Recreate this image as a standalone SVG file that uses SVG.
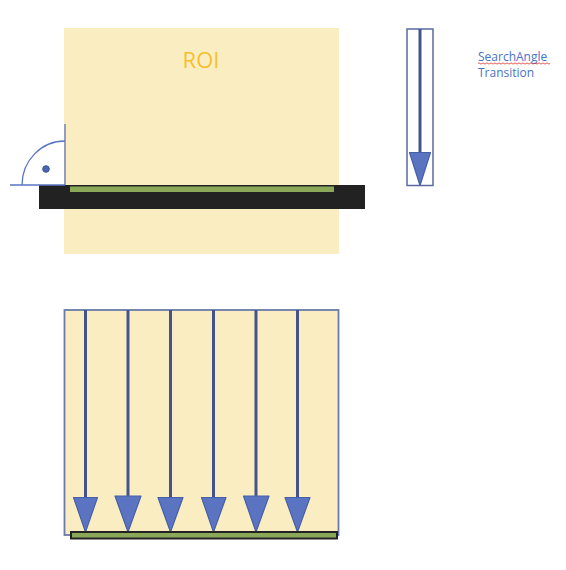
<svg xmlns="http://www.w3.org/2000/svg" width="566" height="570" viewBox="0 0 566 570">
<style>
.roi{fill:#FAEDC1}
.frame{fill:none;stroke:#6A7AAA;stroke-width:1.8}
.shaft{stroke:#43548C;stroke-width:3;fill:none}
.head{fill:#5A74C2;stroke:#4660A8;stroke-width:1.2;stroke-linejoin:round}
.thin{stroke:#5A74C2;stroke-width:1.3;fill:none}
.lbl{font-family:"Open Sans","Liberation Sans",sans-serif;font-size:12px;fill:#4A72C4}
</style>
<rect width="566" height="570" fill="#FFFFFF"/>
<g id="roi-top">
  <rect class="roi" x="64" y="28" width="275" height="226"/>
  <text x="201" y="68" text-anchor="middle" font-family="Open Sans, Liberation Sans, sans-serif" font-size="22" fill="#F2C12E">ROI</text>
</g>
<g id="edge-bar">
  <rect x="39" y="185" width="326" height="24" fill="#222222"/>
  <rect x="70" y="186.5" width="264" height="5.5" fill="#8AA858"/>
</g>
<g id="angle">
  <line class="thin" x1="65" y1="124" x2="65" y2="185"/>
  <line class="thin" x1="10" y1="185" x2="65" y2="185"/>
  <path class="thin" d="M22,185 A43,44 0 0 1 65,141"/>
  <circle cx="46" cy="169" r="3.3" fill="#4A67B4" stroke="#3A5090" stroke-width="1"/>
</g>
<g id="search-legend">
  <rect x="407" y="29" width="26" height="156.5" fill="#FFFFFF" stroke="#5A6A9E" stroke-width="1.5"/>
  <line class="shaft" x1="420" y1="29" x2="420" y2="153"/>
  <polygon class="head" points="409.5,152.5 430.5,152.5 420,185.5"/>
</g>
<g id="legend-text">
  <text class="lbl" x="478" y="61">SearchAngle</text>
  <text class="lbl" x="478" y="77">Transition</text>
  <path d="M478,63.5 q1,-1.2 2,0 t2,0 t2,0 t2,0 t2,0 t2,0 t2,0 t2,0 t2,0 t2,0 t2,0 t2,0 t2,0 t2,0 t2,0 t2,0 t2,0 t2,0 t2,0 t2,0 t2,0 t2,0 t2,0 t2,0 t2,0 t2,0 t2,0 t2,0 t2,0 t2,0 t2,0 t2,0 t2,0 t2,0 t2,0 t2,0" fill="none" stroke="#E03030" stroke-width="0.8"/>
</g>
<g id="roi-bottom">
  <rect class="roi" x="64.5" y="310" width="274" height="225"/>
  <rect class="frame" x="64.5" y="310" width="274" height="225"/>
</g>
<g id="connectors">
  <line class="shaft" x1="85.5" y1="310" x2="85.5" y2="498"/>
  <line class="shaft" x1="128" y1="310" x2="128" y2="496"/>
  <line class="shaft" x1="170.5" y1="310" x2="170.5" y2="498"/>
  <line class="shaft" x1="213.5" y1="310" x2="213.5" y2="498"/>
  <line class="shaft" x1="256" y1="310" x2="256" y2="496"/>
  <line class="shaft" x1="297.5" y1="310" x2="297.5" y2="498"/>
  <polygon class="head" points="73.5,497.5 97.5,497.5 85.5,532"/>
  <polygon class="head" points="115,496 141,496 128,532"/>
  <polygon class="head" points="158,497.5 183,497.5 170.5,532"/>
  <polygon class="head" points="201.5,497.5 226,497.5 213.5,532"/>
  <polygon class="head" points="243.5,496 269,496 256,532"/>
  <polygon class="head" points="285,497.5 310,497.5 297.5,532"/>
</g>
<g id="edge-bottom">
  <rect x="71" y="532" width="266" height="6.5" fill="#8AA858" stroke="#222222" stroke-width="2"/>
</g>
</svg>
